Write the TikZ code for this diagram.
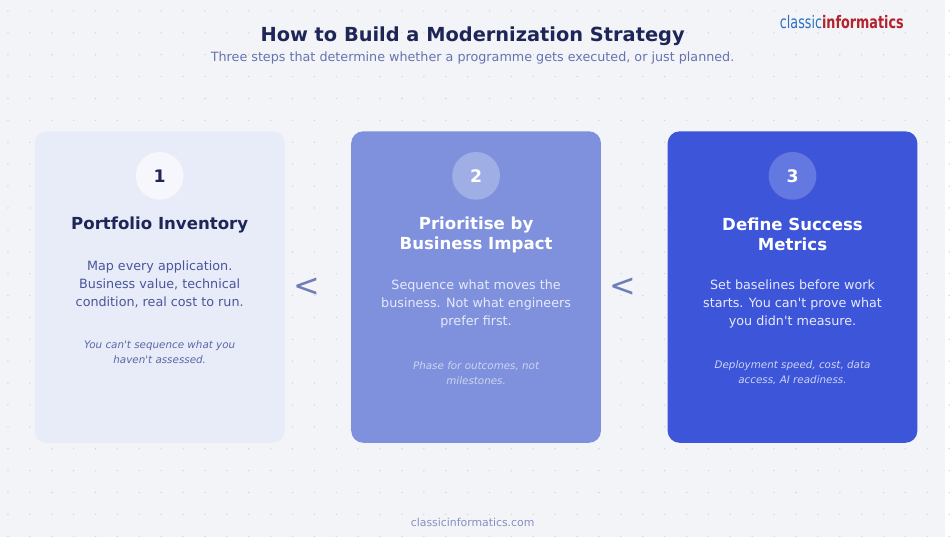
\documentclass[tikz,border=0pt]{standalone}
\usepackage{fontspec}
\setmainfont{DejaVu Sans}
\newfontfamily\logofont[FakeStretch=0.74]{DejaVu Sans}
\usetikzlibrary{positioning,calc}
\definecolor{bgc}{HTML}{F3F4F8}
\definecolor{dotc}{HTML}{D3D6E2}
\definecolor{navy}{HTML}{1E2557}
\definecolor{subc}{HTML}{6673B0}
\definecolor{cardA}{HTML}{E8ECF8}
\definecolor{cardB}{HTML}{7F91DD}
\definecolor{cardC}{HTML}{3D55D9}
\definecolor{circA}{HTML}{F6F7FC}
\definecolor{circB}{HTML}{A0AEE6}
\definecolor{circC}{HTML}{6478E2}
\definecolor{bodyA}{HTML}{4A569A}
\definecolor{noteA}{HTML}{5A66A6}
\definecolor{bodyB}{HTML}{E6EAFA}
\definecolor{noteB}{HTML}{CDD4F3}
\definecolor{chev}{HTML}{6E7DB8}
\definecolor{logoblue}{HTML}{2A6FBF}
\definecolor{logored}{HTML}{B3232B}
\begin{document}
\begin{tikzpicture}[
    x=0.75pt, y=-0.75pt,
    % define styles
    card/.style={
        rounded corners=9pt,
        minimum width=188.25pt,
        minimum height=234.75pt,
        inner sep=0pt
    },
    num/.style={
        circle,
        minimum size=36pt,
        inner sep=0pt,
        font=\fontsize{13}{13}\selectfont\bfseries
    },
    head/.style={
        align=center,
        font=\fontsize{12.5}{15}\selectfont\bfseries
    },
    body/.style={
        align=center,
        font=\fontsize{9.6}{13.5}\selectfont
    },
    note/.style={
        align=center,
        font=\fontsize{7.8}{11.5}\selectfont\itshape
    },
    arr/.style={
        text=chev,
        font=\fontsize{24}{24}\selectfont
    }
]
% background with dot grid
\fill[bgc] (0,0) rectangle (950,540);
\foreach \i in {0,...,43}
  \foreach \j in {0,...,24}
    \fill[dotc] (8+22*\i,11+22*\j) circle (0.6pt);
\useasboundingbox (0,0) rectangle (950,540);

% header
\node[text=navy, font=\fontsize{14.6}{15}\selectfont\bfseries] (title) at (475,36) {How to Build a Modernization Strategy};
\node[text=subc, font=\fontsize{9.6}{10}\selectfont] (sub) at (475,58) {Three steps that determine whether a programme gets executed, or just planned.};
\node[anchor=east, font=\logofont\fontsize{13}{13}\selectfont] (logo) at (913,22)
  {\color{logoblue}classic\textbf{\color{logored}informatics}};

% cards
\node[card, fill=cardA] (c1) at (160.5,288.5) {};
\node[card, fill=cardB] (c2) at (478.5,288.5) {};
\node[card, fill=cardC] (c3) at (796.5,288.5) {};

% step 1
\node[num, fill=circA, text=navy] (n1) at ($(c1.north)+(0,45)$) {1};
\node[head, text=navy] (h1) at ($(c1.north)+(0,94)$) {Portfolio Inventory};
\node[body, text=bodyA] (b1) at ($(c1.north)+(0,154)$) {Map every application.\\Business value, technical\\condition, real cost to run.};
\node[note, text=noteA] (t1) at ($(c1.north)+(0,222)$) {You can\textquotesingle t sequence what you\\haven\textquotesingle t assessed.};

% step 2
\node[num, fill=circB, text=white] (n2) at ($(c2.north)+(0,45)$) {2};
\node[head, text=white] (h2) at ($(c2.north)+(0,104)$) {Prioritise by\\Business Impact};
\node[body, text=bodyB] (b2) at ($(c2.north)+(0,174)$) {Sequence what moves the\\business. Not what engineers\\prefer first.};
\node[note, text=noteB] (t2) at ($(c2.north)+(0,243)$) {Phase for outcomes, not\\milestones.};

% step 3
\node[num, fill=circC, text=white] (n3) at ($(c3.north)+(0,45)$) {3};
\node[head, text=white] (h3) at ($(c3.north)+(0,104)$) {Define Success\\Metrics};
\node[body, text=bodyB] (b3) at ($(c3.north)+(0,174)$) {Set baselines before work\\starts. You can\textquotesingle t prove what\\you didn\textquotesingle t measure.};
\node[note, text=noteB] (t3) at ($(c3.north)+(0,243)$) {Deployment speed, cost, data\\access, AI readiness.};

% chevrons between cards
\node[arr, right=3pt of c1.east] (a1) {<};
\node[arr, right=3pt of c2.east] (a2) {<};

% footer
\node[text=subc!80, font=\fontsize{8.2}{9}\selectfont] (foot) at (475,525) {classicinformatics.com};
\end{tikzpicture}
\end{document}
